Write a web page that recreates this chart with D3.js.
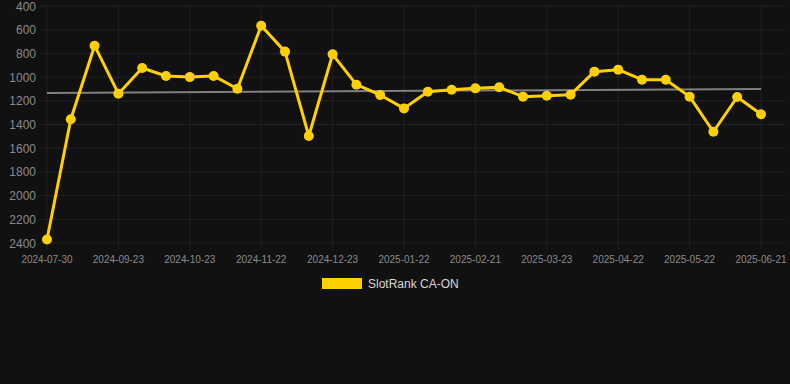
<!DOCTYPE html>
<html>
<head>
<meta charset="utf-8">
<script src="https://cdn.jsdelivr.net/npm/d3@7"></script>
<style>
  html, body { margin: 0; padding: 0; background: #111111; }
  svg { display: block; font-family: "Liberation Sans", Arial, sans-serif; }
</style>
</head>
<body>
<svg width="790" height="384"></svg>
<script>
// Dates (category axis), every third one is labelled
const dates = [
  "2024-07-30", "2024-08-18", "2024-09-05", "2024-09-23", "2024-10-03", "2024-10-13",
  "2024-10-23", "2024-11-02", "2024-11-12", "2024-11-22", "2024-12-02", "2024-12-12",
  "2024-12-23", "2025-01-02", "2025-01-12", "2025-01-22", "2025-02-01", "2025-02-11",
  "2025-02-21", "2025-03-03", "2025-03-13", "2025-03-23", "2025-04-02", "2025-04-12",
  "2025-04-22", "2025-05-02", "2025-05-12", "2025-05-22", "2025-06-01", "2025-06-11",
  "2025-06-21"
];

// SlotRank CA-ON
const ranks = [
  2370, 1355, 735, 1140, 923, 991, 1000, 990, 1098, 566, 785, 1497,
  808, 1064, 1151, 1264, 1123, 1106, 1095, 1086, 1165, 1157, 1148, 954,
  937, 1022, 1022, 1165, 1461, 1168, 1314
];

// trend line endpoints (first date, last date)
const trend = [1134, 1100];

const yTicks = [400, 600, 800, 1000, 1200, 1400, 1600, 1800, 2000, 2200, 2400];
const seriesName = "SlotRank CA-ON";

const svg = d3.select("svg");
const yellow = "#ffd000";

const x = d3.scalePoint()
    .domain(dates)
    .range([47, 761]);

const y = d3.scaleLinear()
    .domain([400, 2400])
    .range([6, 243]);

const labelled = dates.filter((d, i) => i % 3 === 0);

// horizontal grid
svg.append("g")
    .selectAll("line")
    .data(yTicks)
  .enter().append("line")
    .attr("x1", 40)
    .attr("x2", 785)
    .attr("y1", d => y(d))
    .attr("y2", d => y(d))
    .attr("stroke", "#222222")
    .attr("stroke-width", 1);

// vertical grid
svg.append("g")
    .selectAll("line")
    .data(labelled)
  .enter().append("line")
    .attr("x1", d => x(d))
    .attr("x2", d => x(d))
    .attr("y1", 6)
    .attr("y2", 249)
    .attr("stroke", "#222222")
    .attr("stroke-width", 1);

// y labels
svg.append("g")
    .selectAll("text")
    .data(yTicks)
  .enter().append("text")
    .attr("x", 36)
    .attr("y", d => y(d) + 4.5)
    .attr("text-anchor", "end")
    .attr("fill", "#8a8a8a")
    .style("font-size", "12px")
    .text(d => d);

// x labels
svg.append("g")
    .selectAll("text")
    .data(labelled)
  .enter().append("text")
    .attr("x", d => x(d))
    .attr("y", 263)
    .attr("text-anchor", "middle")
    .attr("fill", "#8a8a8a")
    .style("font-size", "10px")
    .text(d => d);

// trend line
svg.append("line")
    .attr("x1", x(dates[0]))
    .attr("x2", x(dates[dates.length - 1]))
    .attr("y1", y(trend[0]))
    .attr("y2", y(trend[1]))
    .attr("stroke", "#808080")
    .attr("stroke-width", 2);

// series line
const line = d3.line()
    .x((d, i) => x(dates[i]))
    .y(d => y(d));

svg.append("path")
    .datum(ranks)
    .attr("d", line)
    .attr("fill", "none")
    .attr("stroke", yellow)
    .attr("stroke-width", 3)
    .attr("stroke-linejoin", "round");

svg.append("g")
    .selectAll("circle")
    .data(ranks)
  .enter().append("circle")
    .attr("cx", (d, i) => x(dates[i]))
    .attr("cy", d => y(d))
    .attr("r", 5)
    .attr("fill", yellow);

// legend
svg.append("rect")
    .attr("x", 322)
    .attr("y", 278)
    .attr("width", 40)
    .attr("height", 11)
    .attr("fill", yellow);

svg.append("text")
    .attr("x", 368)
    .attr("y", 288)
    .attr("fill", "#d8d8d8")
    .style("font-size", "12px")
    .text(seriesName);
</script>
</body>
</html>
